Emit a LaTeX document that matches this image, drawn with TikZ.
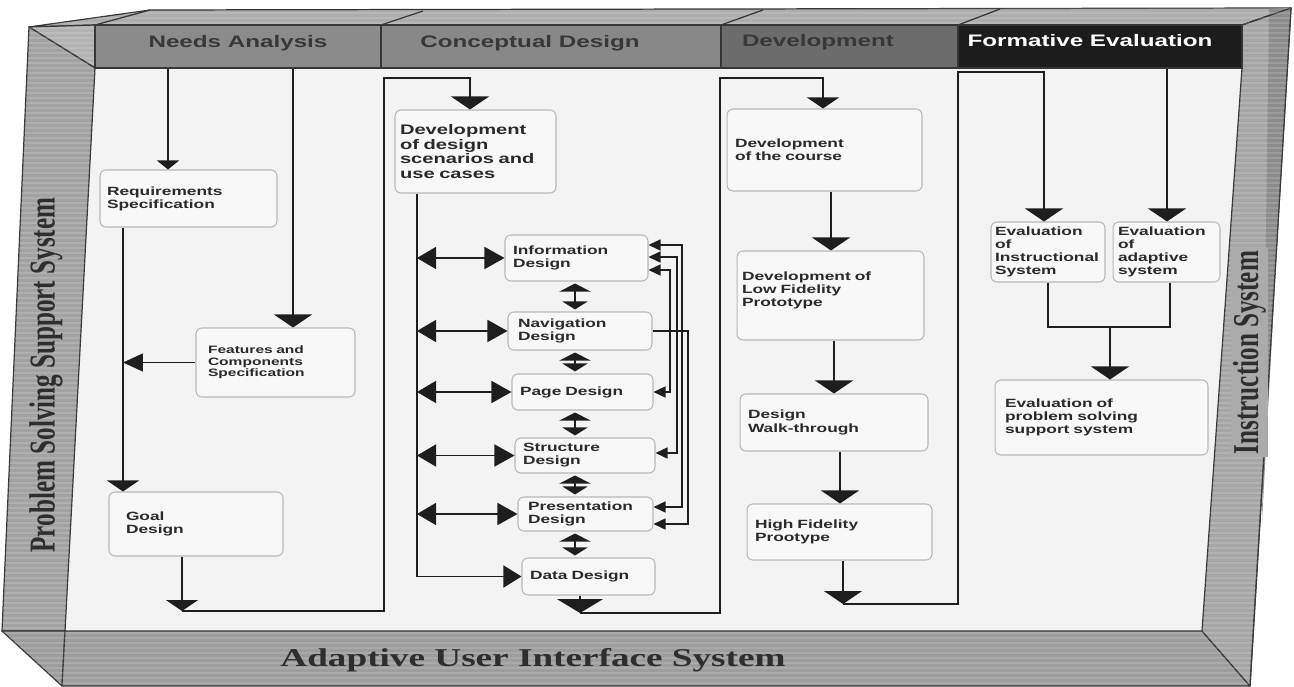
\documentclass[tikz,border=0pt]{standalone}
\usepackage{fontspec}
\usepackage{graphicx}
\usetikzlibrary{arrows.meta,calc}
\newfontfamily\boxfont{Liberation Sans}[FakeStretch=1.45]
\newfontfamily\labfont{Liberation Serif}[FakeStretch=1.45]
\newfontfamily\labfontn{Liberation Serif}
\definecolor{topface}{HTML}{ADADAD}
\definecolor{leftface}{HTML}{A2A2A2}
\definecolor{cornerface}{HTML}{B2B2B2}
\definecolor{bottomface}{HTML}{9D9D9D}
\definecolor{rightface}{HTML}{A6A6A6}
\definecolor{rightdark}{HTML}{8C8C8C}
\definecolor{edge}{HTML}{363636}
\definecolor{inner}{HTML}{F3F3F3}
\definecolor{hNeedsC}{HTML}{8B8B8B}
\definecolor{hConcC}{HTML}{888888}
\definecolor{hDevC}{HTML}{6C6C6C}
\definecolor{hFormC}{HTML}{1C1C1C}
\definecolor{hdtext}{HTML}{383838}
\definecolor{boxline}{HTML}{B8B8B8}
\definecolor{boxfill}{HTML}{F8F8F8}
\definecolor{txt}{HTML}{2A2A2A}
\definecolor{linec}{HTML}{1E1E1E}
\definecolor{labbox}{HTML}{ABABAB}
\definecolor{labtext}{HTML}{2E2E2E}
\begin{document}
\begin{tikzpicture}[x=0.02cm, y=-0.02cm,
  face/.style={draw=edge, line width=0.7pt, line join=round},
  streak/.style={white, opacity=0.14, line width=0.8pt},
  hd/.style={draw=edge, line width=0.7pt, minimum height=0.86cm, inner sep=0pt},
  hdtxt/.style={font=\boxfont\bfseries\fontsize{9.5}{10}\selectfont, inner sep=0pt, text=hdtext},
  bx/.style={draw=boxline, fill=boxfill, rounded corners=0.12cm, line width=0.6pt,
    align=left, text=txt, inner ysep=0pt,
    font=\boxfont\bfseries\fontsize{6.8}{7.5}\selectfont},
  bsz/.style n args={4}{minimum width=#1cm, minimum height=#2cm, text width=#3cm, inner xsep=#4cm},
  lab/.style={text=labtext, inner sep=0pt},
  ln/.style={draw=linec, line width=0.85pt},
  tS/.style={-{Triangle[width=0.44cm,length=0.18cm]}},
  tM/.style={-{Triangle[width=0.64cm,length=0.22cm]}},
  tL/.style={-{Triangle[width=0.76cm,length=0.26cm]}},
  tXL/.style={-{Triangle[width=0.92cm,length=0.28cm]}},
  tSide/.style={-{Triangle[width=0.36cm,length=0.40cm]}},
  tIn/.style={-{Triangle[width=0.44cm,length=0.36cm]}},
  tDbl/.style={{Triangle[width=0.44cm,length=0.38cm]}-{Triangle[width=0.44cm,length=0.40cm]}},
  tV/.style={{Triangle[width=0.62cm,length=0.16cm]}-{Triangle[width=0.50cm,length=0.16cm]},
    shorten <=0.04cm, shorten >=0.04cm},
  tFbTwo/.style={{Triangle[width=0.22cm,length=0.24cm]}-{Triangle[width=0.22cm,length=0.24cm]}},
  tFbOne/.style={-{Triangle[width=0.22cm,length=0.24cm]}}]

\useasboundingbox (0,0) rectangle (1294,686);
\fill[white] (0,0) rectangle (1294,686);

% ---- frame: inner floor and the bevelled faces round it
\fill[inner] (95,68) -- (1242,68) -- (1202,631) -- (65,631) -- cycle;
\filldraw[face, fill=topface] (29,27) -- (150,10) -- (1291,8) -- (1242,25) -- (95,25) -- cycle;
\filldraw[face, fill=cornerface] (29,27) -- (95,25) -- (95,68) -- cycle;
\filldraw[face, fill=leftface] (29,27) -- (95,68) -- (65,631) -- (2,631) -- cycle;
\filldraw[face, fill=bottomface] (2,631) -- (65,631) -- (62,686) -- cycle;
\filldraw[face, fill=bottomface] (65,631) -- (1202,631) -- (1250,686) -- (62,686) -- cycle;
\filldraw[face, fill=rightface] (1242,25) -- (1291,8) -- (1250,686) -- (1202,631) -- (1242,68) -- cycle;
\fill[rightdark] (1269,9) -- (1290,8) -- (1262,520) -- cycle;
\draw[face] (1242,25) -- (1291,8) -- (1250,686);
% brushed texture on the faces
\begin{scope}[even odd rule]
  \clip (29,27) -- (150,10) -- (1291,8) -- (1250,686) -- (62,686) -- (2,631) -- cycle
        (95,68) -- (1242,68) -- (1202,631) -- (65,631) -- cycle;
  \foreach \yy in {3,8,...,686} {\draw[streak] (0,\yy) -- (1294,\yy);}
\end{scope}
% slanted dividers on the top face
\draw[face] (95,25) -- (150,10);
\draw[face] (381,25) -- (423,11);
\draw[face] (721,25) -- (763,10);
\draw[face] (958,25) -- (1000,9);

% ---- phase headers
\node[hd, fill=hNeedsC, minimum width=5.72cm] (hNeeds) at (238,46.5) {};
\node[hd, fill=hConcC, minimum width=6.80cm] (hConc) at (551,46.5) {};
\node[hd, fill=hDevC, minimum width=4.74cm] (hDev) at (839.5,46.5) {};
\node[hd, fill=hFormC, minimum width=5.68cm] (hForm) at (1100,46.5) {};
\node[hdtxt] (tNeeds) at (238,43) {Needs Analysis};
\node[hdtxt] (tConc) at (530,43) {Conceptual Design};
\node[hdtxt] (tDev) at (818,42) {Development};
\node[hdtxt, text=white] (tForm) at (1090,41) {Formative Evaluation};

% ---- system labels on the faces
\node[lab, rotate=90] (lPSS) at (46,375)
  {\scalebox{1}[1.45]{\labfontn\bfseries\fontsize{14.3}{15}\selectfont Problem Solving Support System}};
\node[lab, rotate=90, fill=labbox, minimum width=4.18cm, minimum height=0.74cm] (lIS) at (1249.5,352.5)
  {\scalebox{1}[1.45]{\labfontn\bfseries\fontsize{14.3}{15}\selectfont Instruction System}};
\node[lab, font=\labfont\bfseries\fontsize{14.6}{16}\selectfont] (lAUI) at (533,660)
  {Adaptive User Interface System};

% ---- Needs Analysis
\node[bx, bsz={3.54}{1.14}{3.26}{0.14}] (req) at (188.5,198.5) {Requirements\\Specification};
\node[bx, bsz={3.18}{1.38}{2.70}{0.24}, font=\boxfont\bfseries\fontsize{6.1}{6.6}\selectfont]
  (feat) at (275.5,362.5) {Features and\\Components\\Specification};
\node[bx, bsz={3.48}{1.28}{2.80}{0.34}] (goal) at (196,524) {Goal\\Design};

% ---- Conceptual Design
\node[bx, bsz={3.22}{1.66}{3.02}{0.10}, font=\boxfont\bfseries\fontsize{7.9}{8.2}\selectfont]
  (scen) at (475.5,151.5) {Development\\of design\\scenarios and\\use cases};
\node[bx, bsz={2.86}{0.92}{2.54}{0.16}] (info) at (576.5,258) {Information\\Design};
\node[bx, bsz={2.88}{0.76}{2.48}{0.20}] (nav) at (580,331) {Navigation\\Design};
\node[bx, bsz={2.82}{0.72}{2.50}{0.16}] (page) at (582.5,392) {Page Design};
\node[bx, bsz={2.80}{0.70}{2.48}{0.16}] (struct) at (585,455.5) {Structure\\Design};
\node[bx, bsz={2.70}{0.68}{2.30}{0.20}] (pres) at (585.5,514) {Presentation\\Design};
\node[bx, bsz={2.66}{0.74}{2.34}{0.16}] (data) at (588.5,576.5) {Data Design};

% ---- Development
\node[bx, bsz={3.90}{1.64}{3.58}{0.16}] (course) at (824.5,150) {Development\\of the course};
\node[bx, bsz={3.74}{1.78}{3.54}{0.10}] (lowfi) at (830.5,295.5) {Development of\\Low Fidelity\\Prototype\\\mbox{}};
\node[bx, bsz={3.76}{1.14}{3.44}{0.16}] (walk) at (834,422.5) {Design\\Walk-through};
\node[bx, bsz={3.70}{1.12}{3.38}{0.16}] (hifi) at (839.5,532) {High Fidelity\\Prootype};

% ---- Formative Evaluation
\node[bx, bsz={2.28}{1.20}{2.12}{0.08}] (evalI) at (1048,252) {Evaluation\\of\\Instructional\\System};
\node[bx, bsz={2.14}{1.20}{1.94}{0.10}] (evalA) at (1166.5,252) {Evaluation\\of\\adaptive\\system};
\node[bx, bsz={4.26}{1.50}{3.86}{0.20}] (prob) at (1101.5,417.5) {Evaluation of\\problem solving\\support system};

% ---- connectors: Needs Analysis
\draw[ln, tS] (hNeeds.south -| 168,0) -- (req.north -| 168,0);
\draw[ln, tL] (hNeeds.south -| 293,0) -- (feat.north -| 293,0);
\draw[ln, tM] (req.south -| 123,0) -- (goal.north -| 123,0);
\draw[ln, tSide] (feat.west) -- (feat.west -| 123,0);
\coordinate (needsOut) at (182,611);
\draw[ln, tM] (goal.south -| needsOut) -- (needsOut);
\draw[ln, tL] (needsOut) -- (384,611) |- (470,78) -- (scen.north -| 470,0);

% ---- connectors: Conceptual Design
\draw[ln, tIn] (scen.south -| 417,0) |- (data.west);
\foreach \b in {info,nav,page,struct,pres}
  {\draw[ln, tDbl] (\b.west -| 417,0) -- (\b.west);}
\draw[ln, tV] (info.south -| 575,0) -- (nav.north -| 575,0);
\draw[ln, tV] (nav.south -| 575,0) -- (page.north -| 575,0);
\draw[ln, tV] (page.south -| 575,0) -- (struct.north -| 575,0);
\draw[ln, tV] (struct.south -| 575,0) -- (pres.north -| 575,0);
\draw[ln, tV] (pres.south -| 575,0) -- (data.north -| 575,0);
\draw[ln, tFbTwo] (info.east |- 0,245) -- (682,245) |- (pres.east |- 0,507);
\draw[ln, tFbTwo] (info.east |- 0,257) -- (677,257) |- (struct.east |- 0,453);
\draw[ln, tFbTwo] (info.east |- 0,270) -- (670,270) |- (page.east);
\draw[ln, tFbOne] (nav.east) -- (688,331) |- (pres.east |- 0,524);
\coordinate (concOut) at (580,613);
\draw[ln, tXL] (data.south -| concOut) -- (concOut);
\draw[ln, tM] (concOut) -- (720,613) |- (823,78) -- (course.north -| 823,0);

% ---- connectors: Development
\draw[ln, tL] (course.south -| 831,0) -- (lowfi.north -| 831,0);
\draw[ln, tL] (lowfi.south -| 834,0) -- (walk.north -| 834,0);
\draw[ln, tL] (walk.south -| 840,0) -- (hifi.north -| 840,0);
\coordinate (devOut) at (843,604);
\draw[ln, tL] (hifi.south -| devOut) -- (devOut);
\draw[ln, tL] (devOut) -- (958,604) |- (1044,72) -- (evalI.north -| 1044,0);

% ---- connectors: Formative Evaluation
\draw[ln, tL] (hForm.south -| 1167,0) -- (evalA.north -| 1167,0);
\draw[ln] (evalI.south -| 1048,0) -- (1048,327) -| (evalA.south -| 1170,0);
\coordinate (evalJoin) at (1110,327);
\draw[ln, tL] (evalJoin) -- (prob.north -| evalJoin);
\end{tikzpicture}
\end{document}
